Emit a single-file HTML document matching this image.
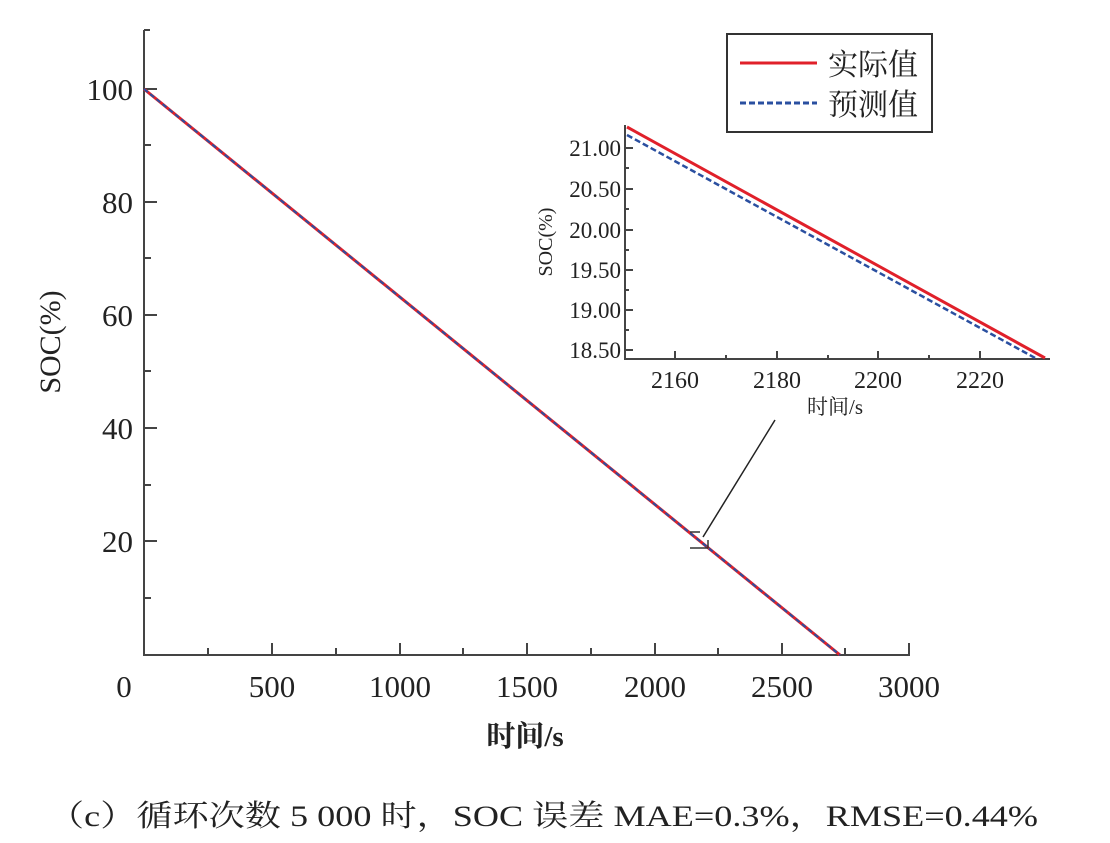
<!DOCTYPE html>
<html><head><meta charset="utf-8"><style>
html,body{margin:0;padding:0;background:#fff;}
svg{display:block;}
text{font-family:"Liberation Serif","Noto Serif CJK SC",serif;fill:#222;}
</style></head><body>
<svg width="1110" height="843" viewBox="0 0 1110 843" xmlns="http://www.w3.org/2000/svg">
<rect width="1110" height="843" fill="#fff"/>
<g stroke="#444" stroke-width="2" fill="none">
<line x1="144" y1="30" x2="144" y2="655"/>
<line x1="143" y1="655" x2="910" y2="655"/>
<line x1="144" y1="30" x2="150" y2="30"/>
<line x1="144" y1="89" x2="157" y2="89"/><line x1="144" y1="202" x2="157" y2="202"/>
<line x1="144" y1="315" x2="157" y2="315"/><line x1="144" y1="428" x2="157" y2="428"/>
<line x1="144" y1="541" x2="157" y2="541"/>
<line x1="144" y1="145" x2="151" y2="145"/><line x1="144" y1="258" x2="151" y2="258"/>
<line x1="144" y1="371" x2="151" y2="371"/><line x1="144" y1="485" x2="151" y2="485"/>
<line x1="144" y1="598" x2="151" y2="598"/>
<line x1="272" y1="655" x2="272" y2="643"/><line x1="400" y1="655" x2="400" y2="643"/>
<line x1="527" y1="655" x2="527" y2="643"/><line x1="655" y1="655" x2="655" y2="643"/>
<line x1="782" y1="655" x2="782" y2="643"/><line x1="909" y1="655" x2="909" y2="643"/>
<line x1="208" y1="655" x2="208" y2="648"/><line x1="336" y1="655" x2="336" y2="648"/>
<line x1="463" y1="655" x2="463" y2="648"/><line x1="591" y1="655" x2="591" y2="648"/>
<line x1="718" y1="655" x2="718" y2="648"/><line x1="845" y1="655" x2="845" y2="648"/>
</g>
<g font-size="31" text-anchor="end">
<text x="133" y="100">100</text><text x="133" y="213">80</text><text x="133" y="326">60</text>
<text x="133" y="439">40</text><text x="133" y="552">20</text>
</g>
<g font-size="31" text-anchor="middle">
<text x="124" y="697">0</text><text x="272" y="697">500</text><text x="400" y="697">1000</text>
<text x="527" y="697">1500</text><text x="655" y="697">2000</text><text x="782" y="697">2500</text>
<text x="909" y="697">3000</text>
<text x="525" y="746" font-weight="bold" font-size="29">时间/s</text>
</g>
<text transform="translate(60,342) rotate(-90)" font-size="30" text-anchor="middle">SOC(%)</text>
<line x1="144" y1="89" x2="840" y2="655" stroke="#e0202a" stroke-width="3"/>
<line x1="144" y1="89" x2="840" y2="655" stroke="#2a4fa0" stroke-width="2" stroke-dasharray="5,3"/>
<line x1="775" y1="420" x2="703" y2="537" stroke="#222" stroke-width="1.5"/>
<path d="M700 532 H690 M690 548 H708 M708 540 V548" stroke="#333" stroke-width="1.5" fill="none"/>
<g stroke="#444" stroke-width="2" fill="none">
<line x1="625" y1="125" x2="625" y2="359"/>
<line x1="624" y1="359" x2="1050" y2="359"/>
<line x1="625" y1="148" x2="633" y2="148"/><line x1="625" y1="189" x2="633" y2="189"/>
<line x1="625" y1="230" x2="633" y2="230"/><line x1="625" y1="270" x2="633" y2="270"/>
<line x1="625" y1="310" x2="633" y2="310"/><line x1="625" y1="350" x2="633" y2="350"/>
<line x1="625" y1="168" x2="629" y2="168"/><line x1="625" y1="209" x2="629" y2="209"/>
<line x1="625" y1="250" x2="629" y2="250"/><line x1="625" y1="290" x2="629" y2="290"/>
<line x1="625" y1="330" x2="629" y2="330"/>
<line x1="675" y1="359" x2="675" y2="351"/><line x1="777" y1="359" x2="777" y2="351"/>
<line x1="878" y1="359" x2="878" y2="351"/><line x1="980" y1="359" x2="980" y2="351"/>
<line x1="726" y1="359" x2="726" y2="355"/><line x1="828" y1="359" x2="828" y2="355"/>
<line x1="929" y1="359" x2="929" y2="355"/>
</g>
<g font-size="23" text-anchor="end">
<text x="621" y="156">21.00</text><text x="621" y="197">20.50</text><text x="621" y="238">20.00</text>
<text x="621" y="278">19.50</text><text x="621" y="318">19.00</text><text x="621" y="358">18.50</text>
</g>
<g font-size="24" text-anchor="middle">
<text x="675" y="388">2160</text><text x="777" y="388">2180</text><text x="878" y="388">2200</text><text x="980" y="388">2220</text>
<text x="835" y="414" font-size="21">时间/s</text>
</g>
<text transform="translate(552,242) rotate(-90)" font-size="20" text-anchor="middle">SOC(%)</text>
<line x1="627" y1="127" x2="1045" y2="358" stroke="#e0202a" stroke-width="3"/>
<line x1="627" y1="135" x2="1037" y2="359" stroke="#2a4fa0" stroke-width="2.5" stroke-dasharray="6,3"/>
<rect x="727" y="34" width="205" height="98" fill="#fff" stroke="#333" stroke-width="2"/>
<line x1="740" y1="63" x2="817" y2="63" stroke="#e0202a" stroke-width="3"/>
<line x1="740" y1="103" x2="817" y2="103" stroke="#2a4fa0" stroke-width="3" stroke-dasharray="6,3"/>
<text x="828" y="75" font-size="30">实际值</text>
<text x="828" y="115" font-size="30">预测值</text>
<text x="48" y="826" font-size="30" textLength="990" lengthAdjust="spacingAndGlyphs" fill="#333">（c）循环次数 5 000 时，SOC 误差 MAE=0.3%，RMSE=0.44%</text>
</svg>
</body></html>
